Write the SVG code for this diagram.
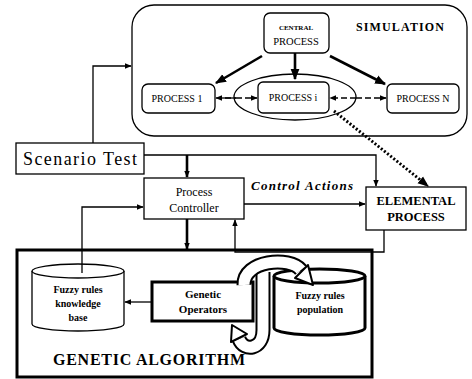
<svg xmlns="http://www.w3.org/2000/svg" width="472" height="379" viewBox="0 0 472 379">
<style>
text{font-family:"Liberation Serif","Times New Roman",serif;fill:#000;text-anchor:middle}
.b{font-weight:bold}
.box{fill:#fff;stroke:#000;stroke-width:1.3}
.thick{fill:#fff;stroke:#000;stroke-width:3}
.ln{fill:none;stroke:#000;stroke-width:1.3}
.tk{fill:none;stroke:#000;stroke-width:2.6}
</style>
<defs>
<marker id="a" viewBox="0 0 10 10" refX="9" refY="5" markerWidth="7" markerHeight="7" orient="auto" markerUnits="userSpaceOnUse"><path d="M0,1 L10,5 L0,9 Z" fill="#000"/></marker>
<marker id="ab" viewBox="0 0 10 10" refX="9" refY="5" markerWidth="11" markerHeight="11" orient="auto" markerUnits="userSpaceOnUse"><path d="M0,1 L10,5 L0,9 Z" fill="#000"/></marker>
</defs>

<g id="simulation">
<rect x="132" y="5" width="335" height="131" rx="22" class="box"/>
<text x="400" y="31" class="b" font-size="12" textLength="88">SIMULATION</text>
</g>

<g id="central">
<rect x="264" y="13" width="65" height="40" rx="6" class="box"/>
<text x="296" y="30" class="b" font-size="7">CENTRAL</text>
<text x="296" y="45" font-size="10.5">PROCESS</text>
</g>

<g id="ellipse"><ellipse cx="295" cy="97" rx="61" ry="23" class="ln"/></g>

<g id="p1">
<rect x="142" y="84" width="73" height="29" rx="6" class="box"/>
<text x="177" y="102" font-size="10">PROCESS 1</text>
</g>
<g id="pi">
<rect x="258" y="82" width="71" height="31" rx="5" class="box"/>
<text x="293" y="101" font-size="10">PROCESS i</text>
</g>
<g id="pn">
<rect x="387" y="84" width="72" height="29" rx="5" class="box"/>
<text x="423" y="102" font-size="10">PROCESS N</text>
</g>

<g id="scenario">
<rect x="16" y="143" width="128" height="31" class="box"/>
<text x="80" y="165" font-size="18" textLength="114">Scenario Test</text>
</g>

<g id="controller">
<rect x="144" y="178" width="100" height="41" class="box"/>
<text x="194" y="196" font-size="12">Process</text>
<text x="194" y="212" font-size="12">Controller</text>
</g>

<g id="elemental">
<rect x="366" y="187" width="100" height="43" class="box"/>
<text x="416" y="205" class="b" font-size="12.5">ELEMENTAL</text>
<text x="416" y="221" class="b" font-size="12.5">PROCESS</text>
</g>

<g id="ga">
<rect x="17" y="250" width="355" height="127" class="thick"/>
<text x="149" y="365" class="b" font-size="16" textLength="192">GENETIC ALGORITHM</text>
</g>

<g id="kb">
<path d="M32,271 L32,324 A46,7 0 0 0 124,324 L124,271" class="box"/>
<ellipse cx="78" cy="271" rx="46" ry="7" class="box"/>
<text x="78" y="293" class="b" font-size="10">Fuzzy rules</text>
<text x="78" y="307" class="b" font-size="10">knowledge</text>
<text x="78" y="321" class="b" font-size="10">base</text>
</g>

<g id="operators">
<rect x="152" y="282" width="101" height="39" class="thick"/>
<text x="203" y="298" class="b" font-size="11">Genetic</text>
<text x="203" y="313" class="b" font-size="11">Operators</text>
</g>

<g id="population">
<path d="M274,276 L274,328 A45.5,7 0 0 0 365,328 L365,276" class="thick"/>
<ellipse cx="319.5" cy="276" rx="45.5" ry="7" class="thick"/>
<text x="320" y="299" class="b" font-size="10">Fuzzy rules</text>
<text x="320" y="313" class="b" font-size="10">population</text>
</g>

<g id="cycle">
<path d="M263,272 L263,330 C263,350 244,352 239,339" fill="none" stroke="#000" stroke-width="15"/>
<path d="M263,272 L263,330 C263,350 244,352 239,339" fill="none" stroke="#fff" stroke-width="11"/>
<path d="M232,325 L247,334 L231,342 Z" fill="#fff" stroke="#000" stroke-width="2" stroke-linejoin="round"/>
<path d="M244,285 C243,260 290,256 301,270" fill="none" stroke="#000" stroke-width="15"/>
<path d="M244,285 C243,260 290,256 301,270" fill="none" stroke="#fff" stroke-width="11"/>
<path d="M313,285 L295,278 L308,265 Z" fill="#fff" stroke="#000" stroke-width="2" stroke-linejoin="round"/>
</g>

<g id="labels">
<text x="302" y="190" class="b" font-size="13" font-style="italic" textLength="102">Control Actions</text>
</g>

<g id="connectors">
<path d="M262,56 L216,83" class="tk" marker-end="url(#ab)"/>
<path d="M295,53 L295,79" class="tk" marker-end="url(#ab)"/>
<path d="M330,56 L385,84" class="tk" marker-end="url(#ab)"/>
<path d="M236,98 L216,98" class="ln" stroke-width="1.6" marker-end="url(#a)"/>
<path d="M236,98 L257,98" class="ln" stroke-width="1.6" stroke-dasharray="6,3" marker-end="url(#a)"/>
<path d="M225,98 L236,98" class="ln" stroke-width="1.6" stroke-dasharray="6,3"/>
<path d="M356,98 L330,98" class="ln" stroke-width="1.6" stroke-dasharray="6,3" marker-end="url(#a)"/>
<path d="M356,98 L386,98" class="ln" stroke-width="1.6" stroke-dasharray="6,3" marker-end="url(#a)"/>
<path d="M334,111 L428,186" fill="none" stroke="#000" stroke-width="3" stroke-dasharray="2,2" marker-end="url(#ab)"/>
<path d="M93,143 L93,66 L131,66" class="ln" marker-end="url(#a)"/>
<path d="M144,155 L376,155 L376,186" class="ln" marker-end="url(#a)"/>
<path d="M187,155 L187,177" class="tk" marker-end="url(#a)"/>
<path d="M244,204 L365,204" class="ln" marker-end="url(#a)"/>
<path d="M384,230 L384,252 L235,252 L235,220" class="ln" marker-end="url(#a)"/>
<path d="M187,219 L187,249" class="tk" marker-end="url(#a)"/>
<path d="M82,273 L82,207 L143,207" class="ln" marker-end="url(#a)"/>
<path d="M152,302 L125,302" class="ln" marker-end="url(#a)"/>
</g>
</svg>
